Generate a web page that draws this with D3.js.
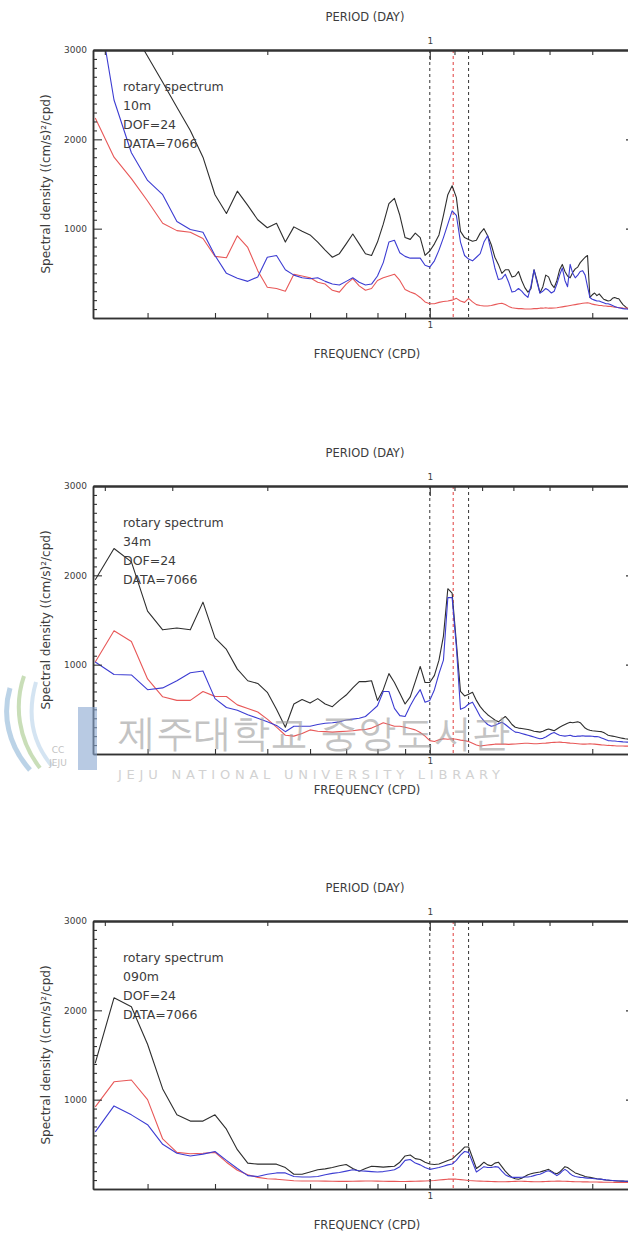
<!DOCTYPE html>
<html>
<head>
<meta charset="utf-8">
<script src="https://cdn.jsdelivr.net/npm/d3@7"></script>
<style>
body { margin: 0; background: #fff; }
svg { display: block; }
text { font-family: 'DejaVu Sans', sans-serif; fill: #3c3c3c; }
</style>
</head>
<body>
<div id="chart"></div>
<script>
// frequency grid (cpd), shared by every series
const freq = [
  0.24, 0.26, 0.28, 0.30, 0.32, 0.34, 0.36, 0.38, 0.40, 0.42,
  0.44, 0.46, 0.48, 0.50, 0.52, 0.54, 0.56, 0.58, 0.60, 0.62,
  0.64, 0.66, 0.68, 0.70, 0.72, 0.74, 0.76, 0.78, 0.80, 0.82,
  0.84, 0.86, 0.88, 0.90, 0.92, 0.94, 0.96, 0.98, 1.00, 1.02,
  1.04, 1.06, 1.08, 1.10, 1.12, 1.14, 1.16, 1.18, 1.20, 1.22,
  1.24, 1.26, 1.28, 1.30, 1.32, 1.34, 1.36, 1.38, 1.40, 1.42,
  1.44, 1.46, 1.48, 1.50, 1.52, 1.54, 1.56, 1.58, 1.60, 1.62,
  1.64, 1.66, 1.68, 1.70, 1.72, 1.74, 1.76, 1.78, 1.80, 1.82,
  1.84, 1.86, 1.88, 1.90, 1.92, 1.94, 1.96, 1.98, 2.00, 2.02,
  2.04, 2.06, 2.08, 2.10, 2.12, 2.14, 2.16, 2.18, 2.20, 2.22,
  2.24, 2.26, 2.28, 2.30, 2.32, 2.34
]

// 10m
const p1Black = [
  3950, 3580, 3240, 2930, 2640, 2360, 2100, 1800, 1380, 1170,
  1420, 1260, 1100, 1010, 1060, 850, 1020, 970, 930, 850,
  760, 680, 720, 830, 940, 830, 720, 700, 850, 1050,
  1280, 1340, 1150, 900, 880, 950, 900, 700, 750, 830,
  930, 1150, 1380, 1480, 1350, 970, 900, 880, 860, 870,
  950, 1000, 920, 820, 680, 600, 500, 540, 540, 460,
  470, 520, 420, 340, 290, 330, 540, 420, 280, 350,
  480, 460, 380, 340, 420, 540, 600, 520, 470, 450,
  510, 550, 570, 620, 650, 680, 700, 230, 260, 280,
  250, 270, 240, 210, 200, 190, 195, 220, 230, 220,
  215, 180, 150, 130, 110, 100
]
const p1Blue = [
  3700, 2440, 1850, 1540, 1380, 1080, 990, 960, 700, 500,
  445, 410, 460, 680, 700, 540, 480, 450, 440, 450,
  410, 380, 370, 410, 450, 400, 370, 380, 470, 620,
  850, 870, 730, 690, 670, 670, 670, 590, 570, 640,
  760, 900, 1050, 1200, 1150, 850, 700, 660, 640, 680,
  720, 850, 920, 740, 560, 430, 440, 490, 400, 290,
  300, 330, 300, 260, 230, 360, 540, 400, 280, 300,
  330, 310, 280, 300, 380, 480, 560, 420, 350, 600,
  500, 450, 480, 520, 530, 480, 350, 230, 210, 200,
  190, 190, 180, 170, 160, 160, 150, 140, 130, 120,
  115, 110, 105, 100, 100, 95
]
const p1Red = [
  2240, 1800, 1560, 1310, 1060, 978, 960, 890, 690, 675,
  920, 790, 530, 345, 330, 300, 490, 470, 450, 400,
  380, 310, 290, 380, 440, 360, 310, 330, 420, 450,
  470, 490, 420, 320, 290, 270, 230, 180, 160, 160,
  175, 185, 190, 200, 220, 190, 175, 220, 180, 150,
  140, 135, 135, 140, 150, 160, 165, 150, 130, 115,
  110, 105, 105, 100, 100, 100, 105, 105, 110, 110,
  115, 110, 110, 112, 115, 120, 125, 130, 135, 140,
  145, 150, 155, 160, 165, 168, 170, 165, 155, 150,
  145, 140, 140, 135, 135, 130, 130, 125, 120, 120,
  115, 115, 112, 110, 110, 110
]

// 34m
const p2Black = [
  1950, 2300, 2150, 1600, 1390, 1410, 1390, 1700, 1300, 1170,
  950, 820, 790, 690, 500, 300, 560, 610, 570, 620,
  560, 530, 600, 660, 740, 810, 810, 820, 600, 720,
  900, 800, 680, 560, 640, 810, 980, 800, 800, 880,
  1050, 1320, 1850, 1800, 1250, 700, 650, 670, 690, 600,
  530, 480, 440, 410, 380, 360, 390, 420, 380, 330,
  300, 290, 285, 280, 275, 265, 255, 250, 245, 255,
  270, 280, 270, 260, 280, 300, 315, 330, 345, 355,
  350, 355, 360, 350, 320, 290, 275, 265, 260, 258,
  255, 252, 250, 240, 225, 210, 205, 200, 195, 190,
  185, 180, 175, 170, 168, 165
]
const p2Blue = [
  1030, 890, 885, 720, 740, 820, 910, 930, 620, 520,
  490, 440, 400, 360, 320, 250, 310, 310, 310, 330,
  345, 350, 360, 380, 390, 400, 420, 480, 540, 700,
  700, 510, 430, 420, 540, 640, 720, 580, 600, 720,
  900, 1050, 1750, 1750, 1200, 500, 520, 560, 580, 500,
  420, 370, 330, 310, 320, 340, 355, 330, 300, 270,
  245, 240, 230, 220, 210, 200, 190, 180, 170, 175,
  190, 210, 230, 240, 225, 210, 205, 200, 205, 210,
  200, 195, 200, 200, 205, 200, 200, 200, 198, 195,
  195, 190, 180, 170, 160, 150, 148, 145, 145, 142,
  140, 138, 136, 135, 133, 132
]
const p2Red = [
  1030, 1380, 1260, 840, 640, 600, 600, 700, 645, 644,
  550, 510, 470, 390, 300, 210, 200, 230, 270, 255,
  250, 245, 250, 255, 260, 270, 275, 290, 320, 350,
  330, 310, 310, 300, 285, 270, 240, 200, 150, 140,
  160, 170, 165, 170, 165, 155, 150, 140, 120, 100,
  90, 95, 100, 105, 110, 110, 112, 110, 108, 110,
  112, 115, 118, 120, 120, 118, 115, 115, 118, 120,
  122, 125, 128, 130, 132, 133, 130, 128, 125, 122,
  120, 118, 115, 112, 110, 110, 112, 115, 112, 110,
  108, 105, 102, 100, 98, 96, 95, 94, 92, 90,
  90, 89, 89, 88, 88, 88
]

// 090m
const p3Black = [
  1410, 2140, 2040, 1620, 1120, 830, 760, 760, 830, 670,
  440, 290, 278, 278, 278, 240, 165, 165, 190, 215,
  225, 240, 260, 275, 230, 200, 230, 255, 250, 245,
  250, 255, 300, 370, 380, 340, 330, 300, 280, 275,
  280, 300, 320, 335, 380, 420, 470, 470, 350, 230,
  260, 300, 270, 260, 290, 300, 250, 200, 160, 130,
  115, 110, 120, 140, 160, 170, 180, 185, 190, 200,
  210, 220, 200, 180, 170, 190, 220, 250, 240, 220,
  200, 180, 170, 160, 150, 140, 135, 130, 125, 120,
  115, 112, 110, 105, 100, 98, 95, 95, 92, 90,
  90, 88, 88, 86, 85, 85
]
const p3Blue = [
  640, 930, 830, 720, 500, 400, 370, 390, 420, 320,
  230, 150, 140, 165, 180, 180, 140, 135, 135, 140,
  160, 175, 185, 200, 215, 205, 200, 195, 190, 195,
  205, 215, 250, 320, 330, 290, 270, 240, 220, 230,
  240, 255, 270, 280, 320, 380, 420, 410, 300, 190,
  220, 250, 240, 240, 250, 245, 200, 160, 140, 130,
  130, 130, 132, 134, 135, 140, 150, 160, 165, 180,
  195, 205, 190, 170, 150, 170, 200, 220, 200, 170,
  150, 140, 135, 130, 128, 125, 122, 120, 118, 115,
  112, 110, 108, 105, 102, 100, 98, 96, 94, 92,
  90, 89, 88, 87, 86, 85
]
const p3Red = [
  920, 1200, 1220, 1000, 560, 410, 395, 400, 410, 300,
  210, 160, 130, 115, 110, 100, 92, 90, 90, 90,
  88, 86, 85, 85, 86, 88, 90, 90, 88, 86,
  85, 85, 84, 84, 85, 86, 88, 90, 92, 95,
  100, 105, 110, 112, 110, 105, 100, 95, 92, 90,
  88, 86, 85, 84, 83, 82, 82, 82, 83, 84,
  85, 86, 86, 85, 84, 83, 82, 82, 82, 83,
  84, 85, 86, 87, 88, 88, 87, 86, 85, 84,
  83, 82, 82, 81, 80, 80, 80, 79, 79, 78,
  78, 77, 77, 76, 76, 75, 75, 75, 74, 74,
  74, 73, 73, 73, 72, 72
]

const depths = ['10m', '34m', '090m']
const infoLines = ['rotary spectrum', null, 'DOF=24', 'DATA=7066']
const markerFreqs = [1.0, 1.105, 1.18]
const markerColors = ['#333333', '#e03c3c', '#333333']
const freqTicks = [0.3, 0.4, 0.5, 0.6, 0.7, 0.8, 0.9, 2]
const periodTicks = [4, 3, 2, 0.9, 0.8, 0.7, 0.6, 0.5]
const yMajor = [1000, 2000, 3000]
const seriesColors = ['#2e2e2e', '#e85858', '#3c3cd2']

const panels = [
  { depth: depths[0], series: [p1Black, p1Red, p1Blue] },
  { depth: depths[1], series: [p2Black, p2Red, p2Blue] },
  { depth: depths[2], series: [p3Black, p3Red, p3Blue] }
]

const width = 628
const height = 1234
const left = 93
const right = 635
const tops = [50, 486, 921]
const plotH = 268

const svg = d3.select('#chart').append('svg')
  .attr('width', width)
  .attr('height', height)

const x = d3.scaleLog().domain([0.2377, 2.4]).range([left, right])
const xPeriod = d3.scaleLog().domain([1 / 0.2377, 1 / 2.4]).range([left, right])
const yMinor = d3.range(100, 3000, 100).filter(function (d) { return d % 1000 !== 0 })

function styleAxis (sel, w) {
  sel.select('.domain').attr('stroke', '#333').attr('stroke-width', w)
  sel.selectAll('.tick line').attr('stroke', '#333').attr('stroke-width', 1.1)
  sel.selectAll('.tick text').attr('font-size', 9).attr('fill', '#444')
}

panels.forEach(function (p, i) {
  const top = tops[i]
  const bottom = top + plotH
  const y = d3.scaleLinear().domain([0, 3000]).range([bottom, top])
  const g = svg.append('g')

  g.append('clipPath').attr('id', 'clip' + i)
    .append('rect')
    .attr('x', left).attr('y', top)
    .attr('width', right - left).attr('height', plotH)

  // dashed reference frequencies
  g.selectAll('.marker')
    .data(markerFreqs)
    .enter().append('line')
    .attr('x1', function (d) { return x(d) })
    .attr('x2', function (d) { return x(d) })
    .attr('y1', top)
    .attr('y2', bottom)
    .attr('stroke', function (d, j) { return markerColors[j] })
    .attr('stroke-width', 1)
    .attr('stroke-dasharray', '3,3')

  // spectra
  const line = d3.line()
    .x(function (d, j) { return x(freq[j]) })
    .y(function (d) { return y(d) })
  p.series.forEach(function (s, k) {
    g.append('path')
      .datum(s)
      .attr('clip-path', 'url(#clip' + i + ')')
      .attr('fill', 'none')
      .attr('stroke', seriesColors[k])
      .attr('stroke-width', 1.1)
      .attr('stroke-linejoin', 'round')
      .attr('d', line)
  })

  // left axis
  g.append('g').attr('transform', 'translate(' + left + ',0)')
    .call(d3.axisLeft(y).tickValues(yMinor).tickSize(-4).tickSizeOuter(0).tickFormat(''))
    .call(styleAxis, 1.5)
  g.append('g').attr('transform', 'translate(' + left + ',0)')
    .call(d3.axisLeft(y).tickValues(yMajor).tickSize(-9).tickSizeOuter(0).tickPadding(6).tickFormat(d3.format('d')))
    .call(styleAxis, 1.5)

  // right axis
  g.append('g').attr('transform', 'translate(' + right + ',0)')
    .call(d3.axisRight(y).tickValues(yMinor).tickSize(-4).tickSizeOuter(0).tickFormat(''))
    .call(styleAxis, 1.5)
  g.append('g').attr('transform', 'translate(' + right + ',0)')
    .call(d3.axisRight(y).tickValues(yMajor).tickSize(-9).tickSizeOuter(0).tickFormat(''))
    .call(styleAxis, 1.5)

  // bottom frequency axis
  g.append('g').attr('transform', 'translate(0,' + bottom + ')')
    .call(d3.axisBottom(x).tickValues(freqTicks).tickSize(-5).tickSizeOuter(0).tickFormat(''))
    .call(styleAxis, 1.5)
  g.append('g').attr('transform', 'translate(0,' + bottom + ')')
    .call(d3.axisBottom(x).tickValues([1]).tickSize(-10).tickSizeOuter(0).tickPadding(4).tickFormat(d3.format('d')))
    .call(styleAxis, 1.5)

  // top period axis
  g.append('g').attr('transform', 'translate(0,' + top + ')')
    .call(d3.axisTop(xPeriod).tickValues(periodTicks).tickSize(-5).tickSizeOuter(0).tickFormat(''))
    .call(styleAxis, 2.2)
  g.append('g').attr('transform', 'translate(0,' + top + ')')
    .call(d3.axisTop(xPeriod).tickValues([1]).tickSize(-10).tickSizeOuter(0).tickPadding(6).tickFormat(d3.format('d')))
    .call(styleAxis, 2.2)

  // titles
  g.append('text')
    .attr('x', 365).attr('y', top - 29)
    .attr('text-anchor', 'middle')
    .attr('font-size', 11.5)
    .text('PERIOD (DAY)')
  g.append('text')
    .attr('x', 367).attr('y', bottom + 40)
    .attr('text-anchor', 'middle')
    .attr('font-size', 11.5)
    .text('FREQUENCY (CPD)')
  g.append('text')
    .attr('transform', 'translate(50,' + (top + plotH / 2) + ') rotate(-90)')
    .attr('text-anchor', 'middle')
    .attr('font-size', 12)
    .text('Spectral density ((cm/s)²/cpd)')

  // info block
  infoLines.forEach(function (t, j) {
    g.append('text')
      .attr('x', 123)
      .attr('y', top + 41 + j * 19)
      .attr('font-size', 12.5)
      .text(t === null ? p.depth : t)
  })
})

// library watermark
const wm = svg.append('g').attr('opacity', 0.6)
wm.append('path')
  .attr('d', 'M10,688 C2,715 8,745 30,770')
  .attr('fill', 'none').attr('stroke', '#8fb6d8').attr('stroke-width', 5)
wm.append('path')
  .attr('d', 'M24,676 C14,705 18,740 40,768')
  .attr('fill', 'none').attr('stroke', '#a6c98a').attr('stroke-width', 4)
wm.append('path')
  .attr('d', 'M36,682 C28,710 30,740 52,766')
  .attr('fill', 'none').attr('stroke', '#b9d3ea').attr('stroke-width', 4)
wm.append('rect')
  .attr('x', 78).attr('y', 707).attr('width', 19).attr('height', 63)
  .attr('fill', '#8aa8d2')
wm.append('text')
  .attr('x', 58).attr('y', 753)
  .attr('text-anchor', 'middle')
  .attr('font-size', 9)
  .style('fill', '#9a9a9a')
  .text('CC')
wm.append('text')
  .attr('x', 58).attr('y', 766)
  .attr('text-anchor', 'middle')
  .attr('font-size', 9)
  .style('fill', '#9a9a9a')
  .text('JEJU')
wm.append('text')
  .attr('x', 118).attr('y', 746)
  .attr('font-family', "'Noto Sans CJK KR', sans-serif")
  .attr('font-size', 38)
  .style('fill', '#9c9c9c')
  .text('제주대학교 중앙도서관')
wm.append('text')
  .attr('x', 118).attr('y', 779)
  .attr('font-size', 13)
  .attr('textLength', 382)
  .style('fill', '#b4b4b4')
  .text('JEJU NATIONAL UNIVERSITY LIBRARY')
</script>
</body>
</html>
